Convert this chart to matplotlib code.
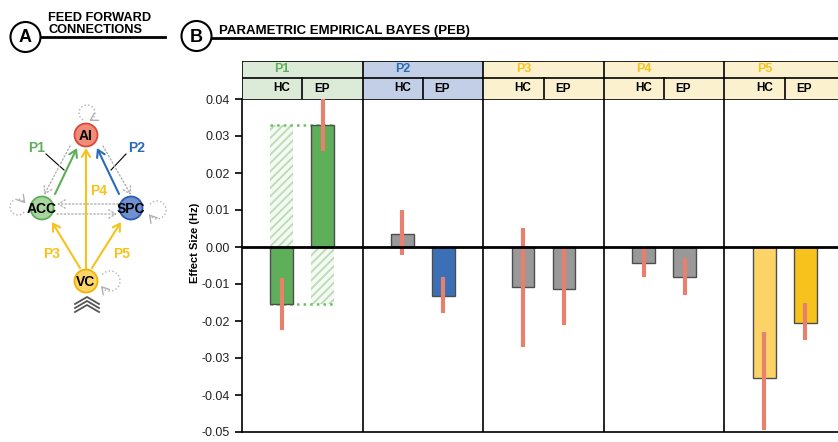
import numpy as np
import matplotlib.pyplot as plt
from matplotlib import rcParams
from matplotlib.patches import Circle, Rectangle, Arc

# 字体设置
rcParams.update({
    'font.family': ['Liberation Sans', 'DejaVu Sans'],
    'axes.unicode_minus': False,
    'hatch.linewidth': 1.3,
})

# ---- 数据 ----
groups = ['P1', 'P2', 'P3', 'P4', 'P5']
conds = ['HC', 'EP']
hc_vals = [-0.0155, 0.0036, -0.0109, -0.0043, -0.0354]
ep_vals = [0.0330, -0.0133, -0.0113, -0.0080, -0.0206]
hc_lo = [-0.0223, -0.0022, -0.0271, -0.0082, -0.0495]
hc_hi = [-0.0083, 0.0100, 0.0051, 0.0000, -0.0231]
ep_lo = [0.0260, -0.0179, -0.0210, -0.0131, -0.0250]
ep_hi = [0.0400, -0.0080, 0.0002, -0.0031, -0.0150]
yticks = [0.04, 0.03, 0.02, 0.01, 0.00, -0.01, -0.02, -0.03, -0.04, -0.05]

hc_colors = ['#5fae5a', '#999999', '#999999', '#999999', '#fbd366']
ep_colors = ['#5fae5a', '#3b70b6', '#999999', '#999999', '#f7c21c']
head_colors = ['#dcebd8', '#c3cfe7', '#fbf1cf', '#fbf1cf', '#fbf1cf']
label_colors = ['#5fae5a', '#2b6cb6', '#f7c21c', '#f7c21c', '#f7c21c']
err_color = '#e8806e'

W, H = 838, 442


def px(x0, y0, x1, y1):
    # 像素坐标 -> figure 坐标
    return [x0 / W, 1 - y1 / H, (x1 - x0) / W, (y1 - y0) / H]


fig = plt.figure(figsize=(W / 100, H / 100), dpi=100)

# ---- 叠加层：标题与网络示意图 ----
oa = fig.add_axes([0, 0, 1, 1])
oa.set_xlim(0, W)
oa.set_ylim(H, 0)
oa.axis('off')

for (cx, cy, letter) in [(25.5, 37, 'A'), (196.5, 36, 'B')]:
    oa.add_patch(Circle((cx, cy), 15, fc='white', ec='black', lw=1.5, zorder=3))
    oa.text(cx, cy + 1, letter, ha='center', va='center', fontsize=13, fontweight='bold', zorder=4)
oa.plot([41, 165], [37, 37], color='black', lw=2)
oa.plot([212, 838], [37.5, 37.5], color='black', lw=2)
oa.text(48, 33, 'FEED FORWARD\nCONNECTIONS', ha='left', va='baseline', fontsize=9.2,
        fontweight='bold', linespacing=1.05)
oa.text(219, 34, 'PARAMETRIC EMPIRICAL BAYES (PEB)', ha='left', va='baseline',
        fontsize=9.5, fontweight='bold')

gray = '#b0b0b0'
nodes = {
    'AI': (86, 135, '#f08c78', '#d9483a'),
    'ACC': (42, 208, '#a9d5a0', '#5fae5a'),
    'SPC': (131, 208, '#7090d0', '#2a5db0'),
    'VC': (86, 281, '#fcd66a', '#f0b400'),
}


def arrow(p0, p1, color, lw=1.5, ls='-'):
    oa.annotate('', xy=p1, xytext=p0,
                arrowprops=dict(arrowstyle='->,head_length=0.5,head_width=0.3',
                                color=color, lw=lw, ls=ls, shrinkA=0, shrinkB=0))


def loop(cx, cy, r, t1, t2):
    oa.add_patch(Arc((cx, cy), 2 * r, 2 * r, theta1=t1, theta2=t2, color=gray, lw=1, ls=':'))
    t = np.deg2rad(t2)
    ex, ey = cx + r * np.cos(t), cy + r * np.sin(t)
    dx, dy = -np.sin(t), np.cos(t)
    arrow((ex - dx * 0.5, ey - dy * 0.5), (ex + dx * 2, ey + dy * 2), gray, lw=1)


# 虚线连接
arrow((70, 146), (44, 195), gray, lw=1, ls=':')
arrow((103, 146), (131, 195), gray, lw=1, ls=':')
arrow((118, 204), (57, 204), gray, lw=1, ls=':')
arrow((57, 214), (117, 214), gray, lw=1, ls=':')
loop(87, 113, 8, 120, 420)
loop(18, 207, 8, 40, 320)
loop(157, 210, 9, 220, 500)
loop(110, 281, 10, 220, 500)

# 实线连接
arrow((55, 194), (77, 148), '#5fae5a')
arrow((119, 194), (97, 148), '#2b6cb6')
arrow((86, 268), (86, 148), '#f7c21c')
arrow((80, 268), (52, 222), '#f7c21c')
arrow((92, 268), (121, 222), '#f7c21c')
oa.plot([46, 64], [154, 170], color='black', lw=0.8)
oa.plot([126, 111], [154, 170], color='black', lw=0.8)

for name, (cx, cy, fc, ec) in nodes.items():
    oa.add_patch(Circle((cx, cy), 11.5, fc=fc, ec=ec, lw=1.3, zorder=3))
    oa.text(cx, cy + 1, name, ha='center', va='center', fontsize=10, fontweight='bold', zorder=4)

for (lbl, x, y, c) in [('P1', 37, 148, '#5fae5a'), ('P2', 137, 148, '#2b6cb6'),
                       ('P4', 99, 191, '#f7c21c'), ('P3', 52, 254, '#f7c21c'),
                       ('P5', 122, 254, '#f7c21c')]:
    oa.text(x, y, lbl, ha='center', va='center', fontsize=10, fontweight='bold', color=c)

for y0 in [297, 301, 305]:
    oa.plot([75, 87, 99], [y0 + 7, y0, y0 + 7], color='#555555', lw=1.3)

# ---- 主图：柱状图 ----
ax = fig.add_axes(px(242, 99, 845, 432))
n = len(groups)
x_hc = np.arange(n) + 0.33
x_ep = np.arange(n) + 0.67
bw = 0.19

# P1 的镜像（阴影）柱
ax.bar(x_hc[0], ep_vals[0], bw, color='#f5f9f4', edgecolor='#b9dcb2', hatch='////', lw=0, zorder=2)
ax.bar(x_ep[0], hc_vals[0], bw, color='#f5f9f4', edgecolor='#b9dcb2', hatch='////', lw=0, zorder=2)
ax.hlines([ep_vals[0], hc_vals[0]], x_hc[0] - bw / 2, x_ep[0] + bw / 2,
          colors='#6cbf62', linestyles=':', lw=1.8, zorder=3)

ax.bar(x_hc, hc_vals, bw, color=hc_colors, edgecolor='#4d4d4d', lw=1, zorder=3)
ax.bar(x_ep, ep_vals, bw, color=ep_colors, edgecolor='#4d4d4d', lw=1, zorder=3)
ax.vlines(x_hc, hc_lo, hc_hi, color=err_color, lw=3, zorder=4)
ax.vlines(x_ep, ep_lo, ep_hi, color=err_color, lw=3, zorder=4)

ax.axhline(0, color='black', lw=2, zorder=5)
for i in range(1, n):
    ax.axvline(i, color='black', lw=1.2, zorder=5)

ax.set_xlim(0, n)
ax.set_ylim(-0.05, 0.04)
ax.set_xticks([])
ax.set_yticks(yticks)
ax.set_yticklabels([f'{v:.2f}' for v in yticks], fontsize=9, color='#222222')
ax.tick_params(axis='y', direction='out', length=5, width=1.2)
ax.spines['right'].set_visible(False)
for s in ['left', 'bottom', 'top']:
    ax.spines[s].set_linewidth(1.2)
fig.text(195 / W, 1 - 243 / H, 'Effect Size (Hz)', rotation=90, ha='center', va='center',
         fontsize=8, fontweight='bold')

# ---- 表头 ----
hx = fig.add_axes(px(242, 61, 845, 99))
hx.set_xlim(0, n)
hx.set_ylim(0, 38)
hx.axis('off')
for i, g in enumerate(groups):
    hx.add_patch(Rectangle((i, 0), 1, 38, fc=head_colors[i], ec='none'))
    hx.text(i + 0.27, 29.5, g, ha='left', va='center', fontsize=9, fontweight='bold',
            color=label_colors[i])
    hx.text(i + 0.33, 11, conds[0], ha='center', va='center', fontsize=8.5, fontweight='bold')
    hx.text(i + 0.66, 10, conds[1], ha='center', va='center', fontsize=8.5, fontweight='bold')
    hx.plot([i + 0.5, i + 0.5], [0, 21], color='black', lw=1.2)
hx.vlines(np.arange(n + 1), 0, 38, color='black', lw=1.2)
hx.hlines([21, 38], 0, n, color='black', lw=1.2)

fig.savefig('out.png', dpi=100)
